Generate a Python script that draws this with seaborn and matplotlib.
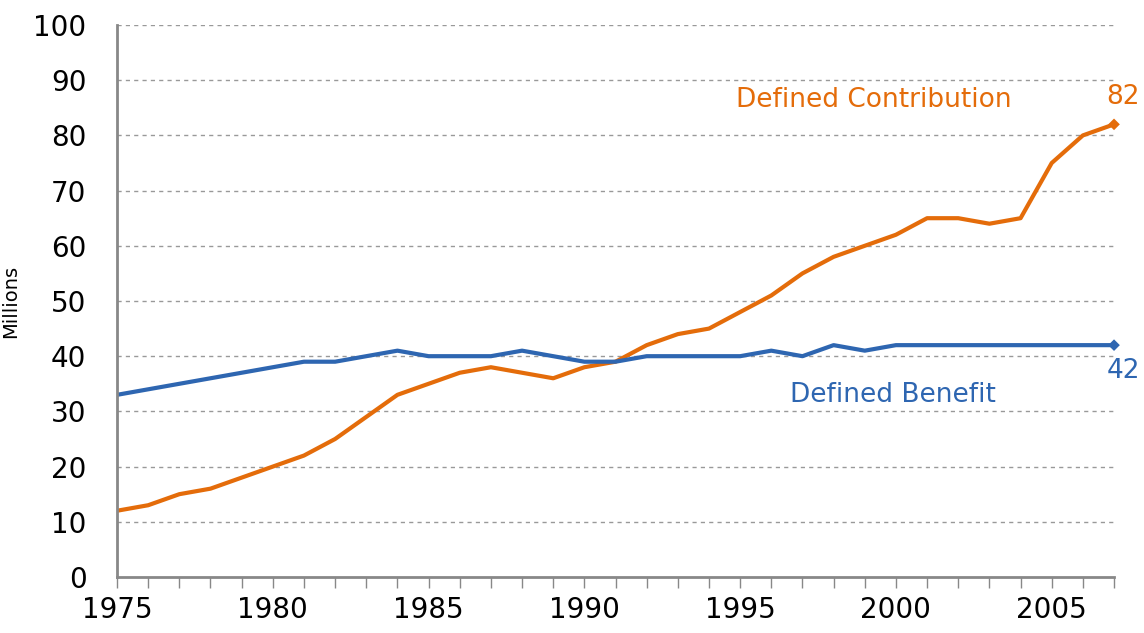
import numpy as np
import pandas as pd
import matplotlib
matplotlib.use('Agg')
import matplotlib.pyplot as plt
import seaborn as sns

# Data (millions of participants)
years = list(range(1975, 2008))
defined_contribution = [12, 13, 15, 16, 18, 20, 22, 25, 29, 33,
                        35, 37, 38, 37, 36, 38, 39, 42, 44, 45,
                        48, 51, 55, 58, 60, 62, 65, 65, 64, 65,
                        75, 80, 82]
defined_benefit = [33, 34, 35, 36, 37, 38, 39, 39, 40, 41,
                   40, 40, 40, 41, 40, 39, 39, 40, 40, 40,
                   40, 41, 40, 42, 41, 42, 42, 42, 42, 42,
                   42, 42, 42]
x_tick_labels = ['1975', '1980', '1985', '1990', '1995', '2000', '2005']

orange = '#E46C0A'
blue = '#2E66B1'
colors = {'Defined Contribution': orange, 'Defined Benefit': blue}

df = pd.DataFrame({
    'year': years * 2,
    'value': defined_contribution + defined_benefit,
    'plan': ['Defined Contribution'] * len(years) + ['Defined Benefit'] * len(years),
})

sns.set_style('white')
plt.rcParams['font.family'] = ['DejaVu Sans']

fig = plt.figure(figsize=(11.44, 6.33), dpi=100)
ax = fig.add_axes([0.1023, 0.0885, 0.8715, 0.872])

sns.lineplot(data=df, x='year', y='value', hue='plan', palette=colors,
             linewidth=3, legend=False, ax=ax)

# diamond markers on the last points
last = df[df['year'] == years[-1]]
sns.scatterplot(data=last, x='year', y='value', hue='plan', palette=colors,
                marker='D', s=35, edgecolor='none', legend=False, ax=ax, zorder=5)
for coll in ax.collections:
    coll.set_clip_on(False)

ax.set_xlim(years[0], years[-1])
ax.set_ylim(0, 100)
ax.set_yticks(range(0, 101, 10))
ax.set_xticks(years)
ax.set_xticklabels([str(y) if str(y) in x_tick_labels else '' for y in years])
ax.tick_params(axis='x', bottom=True, length=8, width=1, color='#888888',
               direction='out', labelsize=20, pad=6, labelcolor='black')
ax.tick_params(axis='y', left=False, length=0, labelsize=20, pad=22,
               labelcolor='black')
ax.set_xlabel('')
ax.set_ylabel('Millions', fontsize=14, color='black')
ax.yaxis.set_label_coords(-0.097, 0.5)

for y in range(10, 101, 10):
    ax.axhline(y, color='#999999', linestyle=(0, (3, 3)), linewidth=1, zorder=0)

for side in ['top', 'right']:
    ax.spines[side].set_visible(False)
for side in ['left', 'bottom']:
    ax.spines[side].set_color('#888888')
    ax.spines[side].set_linewidth(2)

ax.text(1999.3, 86.4, 'Defined Contribution', color=orange, fontsize=19,
        ha='center', va='center')
ax.text(2007.3, 87, str(defined_contribution[-1]), color=orange, fontsize=19,
        ha='center', va='center')
ax.text(1999.9, 33, 'Defined Benefit', color=blue, fontsize=19,
        ha='center', va='center')
ax.text(2007.3, 37.3, str(defined_benefit[-1]), color=blue, fontsize=19,
        ha='center', va='center')

fig.savefig('out.png', dpi=100)
